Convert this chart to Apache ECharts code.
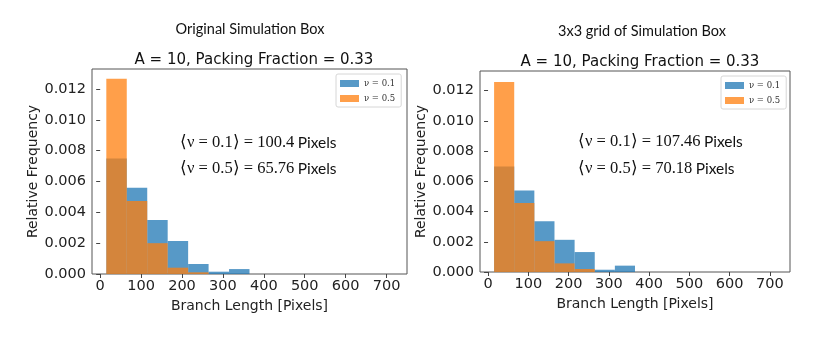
<!DOCTYPE html>
<html>
<head>
<meta charset="utf-8">
<script src="https://cdn.jsdelivr.net/npm/echarts@6/dist/echarts.min.js"></script>
<style>
  html, body { margin: 0; padding: 0; background: #fff; }
  #chart { width: 830px; height: 346px; }
</style>
</head>
<body>
<div id="chart"></div>
<script>
// histogram bins (left edge), width 50 px
const binStarts = [15, 65, 115, 165, 215, 265, 315, 365, 415, 465, 515, 565, 615, 665]
const binWidth = 50

// Original Simulation Box
const origNu01 = [0.0075, 0.0056, 0.0035, 0.00214, 0.00065, 0.00015, 0.00032, 0, 0, 0, 0, 0, 0, 0]
const origNu05 = [0.01267, 0.00474, 0.002, 0.00041, 0.00011, 0, 0, 0, 0, 0, 0, 0, 0, 0]

// 3x3 grid of Simulation Box
const gridNu01 = [0.00698, 0.0054, 0.00336, 0.00213, 0.00132, 0.00015, 0.00042, 0, 0, 0, 0, 0, 0, 0]
const gridNu05 = [0.01257, 0.00457, 0.00204, 0.00057, 0.0002, 0, 0, 0, 0, 0, 0, 0, 0, 0]

const xTicks = [0, 100, 200, 300, 400, 500, 600, 700]
const yTicks = [0, 0.002, 0.004, 0.006, 0.008, 0.010, 0.012]

const BLUE = 'rgba(31,119,180,0.75)'
const ORANGE = 'rgba(255,127,14,0.75)'

function histData(vals) {
  return binStarts.map((s, i) => [s, s + binWidth, vals[i]])
}

function renderBar(params, api) {
  const v = api.value(2)
  if (!v) return
  const p0 = api.coord([api.value(0), v])
  const p1 = api.coord([api.value(1), 0])
  return {
    type: 'rect',
    shape: { x: p0[0], y: p0[1], width: p1[0] - p0[0], height: p1[1] - p0[1] },
    style: { fill: api.visual('color') }
  }
}

function xAxisFor(gi) {
  return {
    type: 'value', gridIndex: gi, min: -20, max: 750,
    name: 'Branch Length [Pixels]', nameLocation: 'middle', nameGap: 23,
    nameTextStyle: { fontFamily: 'DejaVu Sans', fontSize: 14, color: '#222' },
    axisLine: { show: false },
    axisTick: { show: true, customValues: xTicks, length: 4, lineStyle: { color: '#444' } },
    axisLabel: { customValues: xTicks, fontFamily: 'DejaVu Sans', fontSize: 14.5, color: '#222', margin: 5 },
    splitLine: { show: false }
  }
}

function yAxisFor(gi) {
  return {
    type: 'value', gridIndex: gi, min: 0, max: 0.0133,
    name: 'Relative Frequency', nameLocation: 'middle', nameGap: 52,
    nameTextStyle: { fontFamily: 'DejaVu Sans', fontSize: 14, color: '#222' },
    axisLine: { show: false },
    axisTick: { show: true, customValues: yTicks, length: 4, lineStyle: { color: '#444' } },
    axisLabel: {
      customValues: yTicks, fontFamily: 'DejaVu Sans', fontSize: 14.5, color: '#222', margin: 6,
      formatter: v => v.toFixed(3)
    },
    splitLine: { show: false }
  }
}

function legendFor(left, top) {
  return {
    left, top, orient: 'vertical', icon: 'rect',
    itemWidth: 19, itemHeight: 7, itemGap: 6,
    padding: [5, 6, 4, 4], borderColor: '#d6d6d6', borderWidth: 1, borderRadius: 2,
    textStyle: { fontFamily: 'DejaVu Serif', fontSize: 8.5, color: '#333' },
    data: ['ν = 0.1', 'ν = 0.5']
  }
}

function note(left, top, nu, val) {
  return {
    type: 'text', left, top,
    style: {
      text: '{m|⟨ν = ' + nu + '⟩ = ' + val + '} {p|Pixels}',
      rich: {
        m: { fontFamily: 'Liberation Serif', fontSize: 16.5, fill: '#111' },
        p: { fontFamily: 'Lato', fontSize: 15.5, fill: '#111' }
      }
    }
  }
}

const chart = echarts.init(document.getElementById('chart'))

chart.setOption({
  animation: false,
  title: [
    { text: 'Original Simulation Box', left: 245, top: 17, textAlign: 'center',
      textStyle: { fontFamily: 'Lato', fontSize: 14.5, fontWeight: 'normal', color: '#111' } },
    { text: 'A = 10, Packing Fraction = 0.33', left: 249, top: 48, textAlign: 'center',
      textStyle: { fontFamily: 'DejaVu Sans', fontSize: 15, fontWeight: 'normal', color: '#111' } },
    { text: '3x3 grid of Simulation Box', left: 637, top: 19, textAlign: 'center',
      textStyle: { fontFamily: 'Lato', fontSize: 14.5, fontWeight: 'normal', color: '#111' } },
    { text: 'A = 10, Packing Fraction = 0.33', left: 635, top: 50, textAlign: 'center',
      textStyle: { fontFamily: 'DejaVu Sans', fontSize: 15, fontWeight: 'normal', color: '#111' } }
  ],
  legend: [legendFor(336, 74), legendFor(721, 76)],
  grid: [
    { left: 92, right: 423, top: 69, bottom: 72, show: true, borderColor: '#555', borderWidth: 1 },
    { left: 480, right: 40, top: 71, bottom: 74, show: true, borderColor: '#555', borderWidth: 1 }
  ],
  xAxis: [xAxisFor(0), xAxisFor(1)],
  yAxis: [yAxisFor(0), yAxisFor(1)],
  series: [
    { name: 'ν = 0.1', type: 'custom', xAxisIndex: 0, yAxisIndex: 0, renderItem: renderBar,
      itemStyle: { color: BLUE }, encode: { x: [0, 1], y: 2 }, data: histData(origNu01) },
    { name: 'ν = 0.5', type: 'custom', xAxisIndex: 0, yAxisIndex: 0, renderItem: renderBar,
      itemStyle: { color: ORANGE }, encode: { x: [0, 1], y: 2 }, data: histData(origNu05) },
    { name: 'ν = 0.1', type: 'custom', xAxisIndex: 1, yAxisIndex: 1, renderItem: renderBar,
      itemStyle: { color: BLUE }, encode: { x: [0, 1], y: 2 }, data: histData(gridNu01) },
    { name: 'ν = 0.5', type: 'custom', xAxisIndex: 1, yAxisIndex: 1, renderItem: renderBar,
      itemStyle: { color: ORANGE }, encode: { x: [0, 1], y: 2 }, data: histData(gridNu05) }
  ],
  graphic: [
    note(180, 134, '0.1', '100.4'),
    note(180, 160, '0.5', '65.76'),
    note(578, 133, '0.1', '107.46'),
    note(578, 160, '0.5', '70.18')
  ]
})
</script>
</body>
</html>
